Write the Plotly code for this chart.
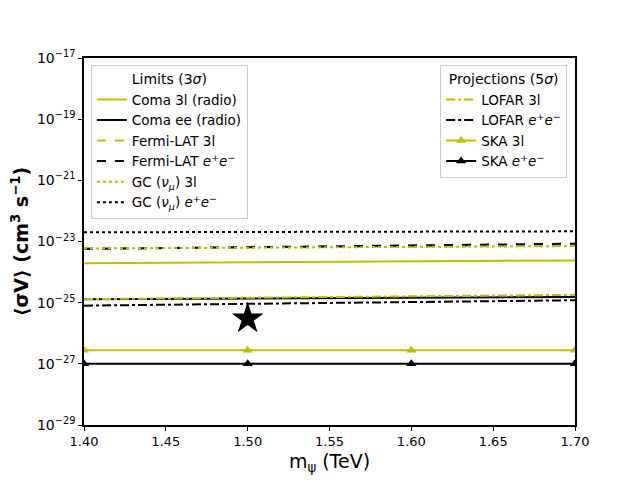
import plotly.graph_objects as go

# dark matter mass points (TeV)
mass = [1.40, 1.50, 1.60, 1.70]

# limits (3 sigma), <sigma v> in cm^3 s^-1
coma_3l = [1.95e-24, 2.1e-24, 2.25e-24, 2.4e-24]
coma_ee = [1.3e-25, 1.37e-25, 1.45e-25, 1.53e-25]
fermi_3l = [6.0e-24, 6.4e-24, 6.8e-24, 7.2e-24]
fermi_ee = [5.7e-24, 6.6e-24, 7.6e-24, 8.5e-24]
gc_3l = [5.9e-24, 6.3e-24, 6.7e-24, 7.1e-24]
gc_ee = [2.0e-23, 2.05e-23, 2.1e-23, 2.15e-23]

# projections (5 sigma)
lofar_3l = [1.3e-25, 1.45e-25, 1.62e-25, 1.8e-25]
lofar_ee = [8.0e-26, 9.2e-26, 1.05e-25, 1.2e-25]
ska_3l = [2.8e-27, 2.8e-27, 2.8e-27, 2.8e-27]
ska_ee = [1.0e-27, 1.0e-27, 1.0e-27, 1.0e-27]

# benchmark point
star_x = [1.50]
star_y = [3.0e-26]

y_tickvals = [1e-17, 1e-19, 1e-21, 1e-23, 1e-25, 1e-27, 1e-29]
y_ticktext = ['10<sup>\u221217</sup>', '10<sup>\u221219</sup>', '10<sup>\u221221</sup>',
              '10<sup>\u221223</sup>', '10<sup>\u221225</sup>', '10<sup>\u221227</sup>',
              '10<sup>\u221229</sup>']
x_tickvals = [1.40, 1.45, 1.50, 1.55, 1.60, 1.65, 1.70]

YEL = '#bfbf00'
EE = '<i>e</i><sup>+</sup><i>e</i><sup>\u2212</sup>'

fig = go.Figure()

# Limits legend
limits = [
    ('Coma 3l (radio)', coma_3l, YEL, 'solid'),
    ('Coma ee (radio)', coma_ee, 'black', 'solid'),
    ('Fermi-LAT 3l', fermi_3l, YEL, 'dash'),
    ('Fermi-LAT ' + EE, fermi_ee, 'black', 'dash'),
    ('GC (<i>\u03bd<sub>\u03bc</sub></i>) 3l', gc_3l, YEL, 'dot'),
    ('GC (<i>\u03bd<sub>\u03bc</sub></i>) ' + EE, gc_ee, 'black', 'dot'),
]
for name, vals, col, dash in limits:
    fig.add_trace(go.Scatter(x=mass, y=vals, mode='lines', name=name,
                             line=dict(color=col, width=2, dash=dash),
                             legend='legend'))

# Projections legend
fig.add_trace(go.Scatter(x=mass, y=lofar_3l, mode='lines', name='LOFAR 3l',
                         line=dict(color=YEL, width=2, dash='dashdot'), legend='legend2'))
fig.add_trace(go.Scatter(x=mass, y=lofar_ee, mode='lines', name='LOFAR ' + EE,
                         line=dict(color='black', width=2, dash='dashdot'), legend='legend2'))
fig.add_trace(go.Scatter(x=mass, y=ska_3l, mode='lines+markers', name='SKA 3l',
                         line=dict(color=YEL, width=2),
                         marker=dict(symbol='triangle-up', size=9, color=YEL),
                         legend='legend2'))
fig.add_trace(go.Scatter(x=mass, y=ska_ee, mode='lines+markers', name='SKA ' + EE,
                         line=dict(color='black', width=2),
                         marker=dict(symbol='triangle-up', size=9, color='black'),
                         legend='legend2'))

fig.add_trace(go.Scatter(x=star_x, y=star_y, mode='markers', showlegend=False,
                         marker=dict(symbol='star', size=24, color='black')))

legend_style = dict(bgcolor='white', bordercolor='#cccccc', borderwidth=1,
                    font=dict(size=13.5, color='black'), yanchor='top', y=0.981,
                    tracegroupgap=0)

fig.update_layout(
    width=633, height=473,
    margin=dict(l=70, r=66, t=50, b=54),
    paper_bgcolor='white', plot_bgcolor='white',
    font=dict(family='DejaVu Sans', color='black', size=13),
    legend=dict(title=dict(text='Limits (3<i>\u03c3</i>)', side='top center', font=dict(size=14)),
                x=0.014, xanchor='left', **legend_style),
    legend2=dict(title=dict(text='Projections (5<i>\u03c3</i>)', side='top center', font=dict(size=14)),
                 x=0.984, xanchor='right', **legend_style),
)

fig.update_xaxes(range=[1.40, 1.70], tickvals=x_tickvals, tickformat='.2f',
                 ticks='outside', ticklen=4, tickcolor='black', tickfont=dict(size=13),
                 showline=True, linecolor='black', linewidth=1.5, mirror=True,
                 showgrid=False, zeroline=False,
                 title=dict(text='m<sub>\u03c8</sub> (TeV)', font=dict(size=19), standoff=6))
fig.update_yaxes(type='log', range=[-29, -17], tickvals=y_tickvals, ticktext=y_ticktext,
                 ticks='outside', ticklen=4, tickcolor='black', tickfont=dict(size=14),
                 showline=True, linecolor='black', linewidth=1.5, mirror=True,
                 showgrid=False, zeroline=False,
                 title=dict(text='<b>\u27e8\u03c3V\u27e9 (cm<sup>3</sup> s<sup>\u22121</sup>)</b>',
                            font=dict(size=19), standoff=4))

fig.write_html('out.html')
